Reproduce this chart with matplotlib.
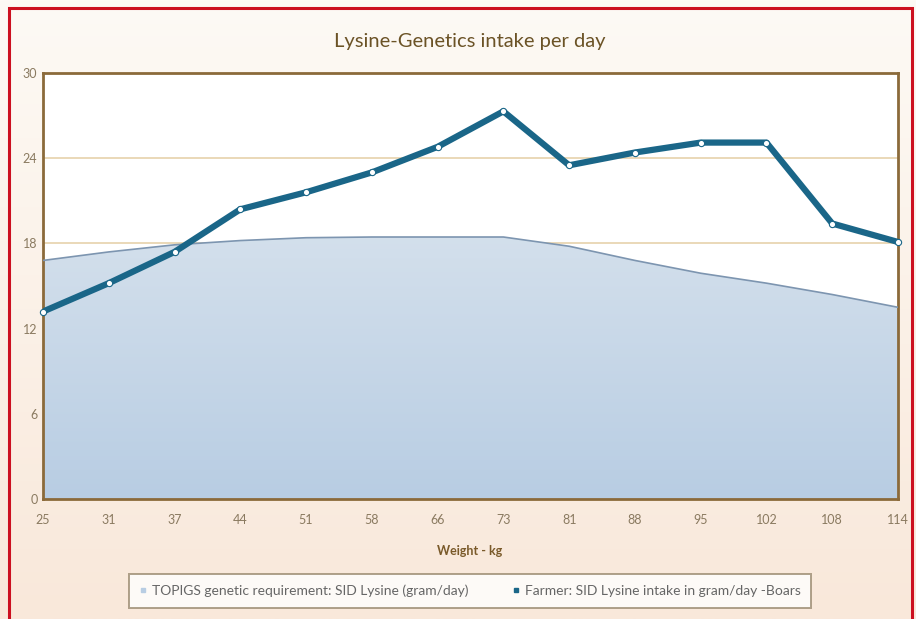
import matplotlib
matplotlib.use("Agg")
import matplotlib.pyplot as plt
import numpy as np
from matplotlib.patches import Rectangle, PathPatch
from matplotlib.lines import Line2D

weights = ["25", "31", "37", "44", "51", "58", "66", "73", "81", "88", "95", "102", "108", "114"]
genetic_req = [16.8, 17.4, 17.9, 18.2, 18.4, 18.45, 18.45, 18.45, 17.8, 16.8, 15.9, 15.2, 14.4, 13.5]
farmer_intake = [13.2, 15.2, 17.4, 20.4, 21.6, 23.0, 24.8, 27.3, 23.5, 24.4, 25.1, 25.1, 19.4, 18.1]
yticks = [0, 6, 12, 18, 24, 30]

plt.rcParams['font.family'] = ['Lato', 'DejaVu Sans']

W, H = 916, 619
fig = plt.figure(figsize=(W/100, H/100), dpi=100)

# background gradient (cream to light peach)
bg = fig.add_axes([0, 0, 1, 1], zorder=-10)
t = np.linspace(0, 1, 256)[:, None, None]
c_top = np.array([253, 250, 245]) / 255
c_bot = np.array([249, 232, 218]) / 255
img = c_top + (c_bot - c_top) * t
bg.imshow(img, aspect='auto', extent=[0, 1, 0, 1], origin='upper')
bg.set_xlim(0, 1); bg.set_ylim(0, 1)
bg.axis('off')

# red border (open at the bottom, runs off the image)
fig.patches.append(Rectangle((9/W, -10/H), (912-9)/W, (619 - 8 + 10)/H, transform=fig.transFigure,
                             fill=False, edgecolor='#cc1020', linewidth=2.2, zorder=20))

left, right, top, bottom = 43, 898, 73, 499
ax = fig.add_axes([left/W, 1 - bottom/H, (right-left)/W, (bottom-top)/H])
ax.set_facecolor('white')

x = np.arange(len(weights))
ax.set_xlim(0, len(weights) - 1)
ax.set_ylim(0, 30)

# gridlines
for yv in yticks[1:-1]:
    ax.axhline(yv, color='#ead8b8', linewidth=1.4, zorder=1)

# gradient-filled area
poly = ax.fill_between(x, genetic_req, 0, facecolor='none', edgecolor='none', zorder=2)
ca = np.array([212, 224, 236]) / 255
cb = np.array([184, 205, 227]) / 255
garr = ca + (cb - ca) * t
im = ax.imshow(garr, aspect='auto', extent=[0, len(weights)-1, 0, 19], origin='upper', zorder=2)
pp = PathPatch(poly.get_paths()[0], transform=ax.transData, facecolor='none', edgecolor='none')
ax.add_patch(pp)
im.set_clip_path(pp)
ax.plot(x, genetic_req, color='#7d95b0', linewidth=1.2, zorder=3)

# farmer line
ax.plot(x, farmer_intake, color='#1a6688', linewidth=4.5, zorder=4, solid_joinstyle='round')
ax.plot(x, farmer_intake, linestyle='none', marker='o', markersize=4.5,
        markerfacecolor='white', markeredgecolor='#1a6688', markeredgewidth=0.8, zorder=5,
        clip_on=False)

ax.set_xticks(x)
ax.set_xticklabels(weights)
ax.set_yticks(yticks)
ax.tick_params(axis='both', length=0, colors='#8a7a60', labelsize=9)
ax.tick_params(axis='x', pad=11)
ax.tick_params(axis='y', pad=4)
for s in ax.spines.values():
    s.set_color('#8b6a3a')
    s.set_linewidth(2)

fig.text(470/W, 1 - 42/H, 'Lysine-Genetics intake per day', ha='center', va='center',
         fontsize=14.5, color='#6b5326')
fig.text(470/W, 1 - 551/H, 'Weight - kg', ha='center', va='center',
         fontsize=9, fontweight='bold', color='#7a5a2a')

handles = [Line2D([], [], linestyle='none', marker='s', markersize=3, color='#b8cde3'),
           Line2D([], [], linestyle='none', marker='s', markersize=3, color='#1a6688')]
labels = ['TOPIGS genetic requirement: SID Lysine (gram/day)',
          'Farmer: SID Lysine intake in gram/day -Boars']
leg = fig.legend(handles, labels, loc='center', bbox_to_anchor=(470/W, 1 - 591/H), ncol=2,
                 fontsize=10, frameon=True, fancybox=False, handlelength=0.5, handletextpad=0.4,
                 columnspacing=3.2, borderpad=0.75, labelcolor='#666666')
leg.get_frame().set_edgecolor('#9a8a70')
leg.get_frame().set_linewidth(1.4)
leg.get_frame().set_facecolor('white')

fig.savefig('out.png', dpi=100)
